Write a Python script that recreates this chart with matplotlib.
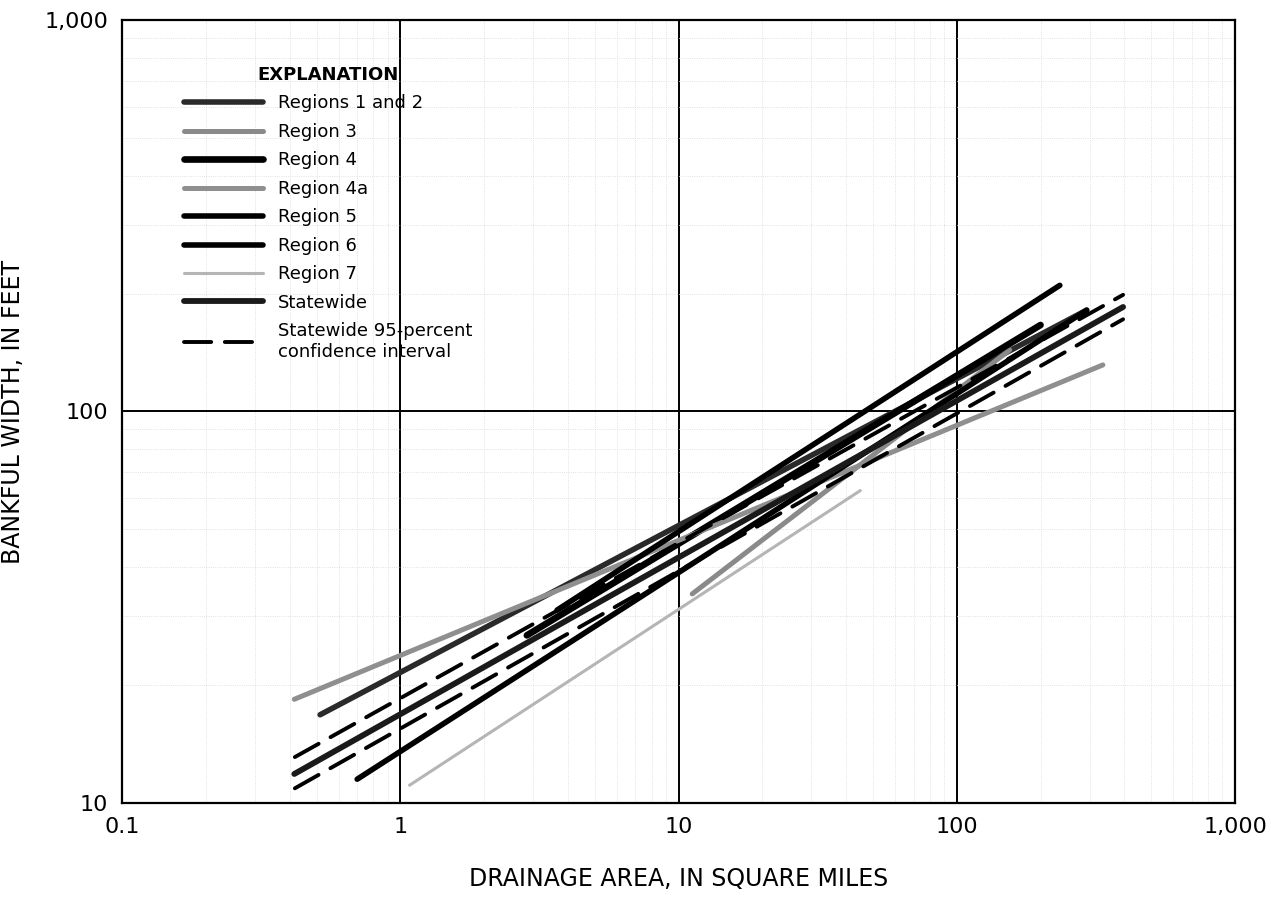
import numpy as np
import matplotlib
matplotlib.use("Agg")
import matplotlib.pyplot as plt
from matplotlib.ticker import LogLocator, NullFormatter

plt.rcParams['font.family'] = ['DejaVu Sans']

# regional curves of bankfull width vs drainage area (end points)
labels = ["Regions 1 and 2", "Region 3", "Region 4", "Region 4a",
          "Region 5", "Region 6", "Region 7", "Statewide"]
da_start = [0.515, 11.2, 2.85, 0.416, 3.66, 0.70, 1.08, 0.416]
da_end = [293, 155, 200, 335, 234.6, 293, 45, 396]
w_start = [16.8, 34.2, 26.8, 18.4, 31.1, 11.5, 11.1, 11.86]
w_end = [181.5, 143.6, 166.3, 131.5, 210, 181.5, 62.8, 184.9]

# statewide 95-percent confidence interval
ci_da = [0.418, 396]
ci_upper = [13.1, 198.6]
ci_lower = [10.9, 172]

xtick_vals = [0.1, 1, 10, 100, 1000]
xtick_labels = ["0.1", "1", "10", "100", "1,000"]
ytick_vals = [10, 100, 1000]
ytick_labels = ["10", "100", "1,000"]

colors = ["#2a2a2a", "#8a8a8a", "black", "#8f8f8f", "black", "black", "#b5b5b5", "#1a1a1a"]
widths = [4.0, 3.6, 4.8, 3.6, 4.0, 4.0, 2.2, 4.2]

fig = plt.figure(figsize=(12.71, 9.01), dpi=100)
ax = fig.add_axes([0.096, 0.1088, 0.8757, 0.869])
ax.set_xscale('log')
ax.set_yscale('log')
ax.set_xlim(0.1, 1000)
ax.set_ylim(10, 1000)

ax.grid(which='major', color='black', lw=1.4)
ax.grid(which='minor', color='#d9d9d9', lw=0.6, ls=':')
ax.set_axisbelow(True)

handles = []
for i in range(len(labels)):
    h, = ax.plot([da_start[i], da_end[i]], [w_start[i], w_end[i]],
                 color=colors[i], lw=widths[i], solid_capstyle='round',
                 label=labels[i], zorder=3)
    handles.append(h)

ci, = ax.plot(ci_da, ci_upper, color='black', lw=2.8, dashes=(7, 3.5),
              dash_capstyle='round', label="Statewide 95-percent\nconfidence interval", zorder=3)
ax.plot(ci_da, ci_lower, color='black', lw=2.8, dashes=(7, 3.5),
        dash_capstyle='round', zorder=3)
handles.append(ci)

ax.set_xticks(xtick_vals)
ax.set_xticklabels(xtick_labels)
ax.set_yticks(ytick_vals)
ax.set_yticklabels(ytick_labels)
ax.xaxis.set_minor_locator(LogLocator(base=10, subs=np.arange(2, 10)))
ax.yaxis.set_minor_locator(LogLocator(base=10, subs=np.arange(2, 10)))
ax.xaxis.set_minor_formatter(NullFormatter())
ax.yaxis.set_minor_formatter(NullFormatter())
ax.tick_params(which='major', length=0, labelsize=16, pad=10)
ax.tick_params(which='minor', length=0)
for s in ax.spines.values():
    s.set_linewidth(1.6)

ax.set_xlabel("DRAINAGE AREA, IN SQUARE MILES", fontsize=17, labelpad=22)
ax.set_ylabel("BANKFUL WIDTH, IN FEET", fontsize=17, labelpad=14)

leg = ax.legend(handles=handles, loc='upper left', bbox_to_anchor=(0.041, 0.962),
                frameon=False, fontsize=13, handlelength=4.4, handletextpad=0.8,
                labelspacing=0.58, title="EXPLANATION",
                title_fontproperties={'weight': 'bold', 'size': 13})

fig.savefig("out.png", dpi=100)
